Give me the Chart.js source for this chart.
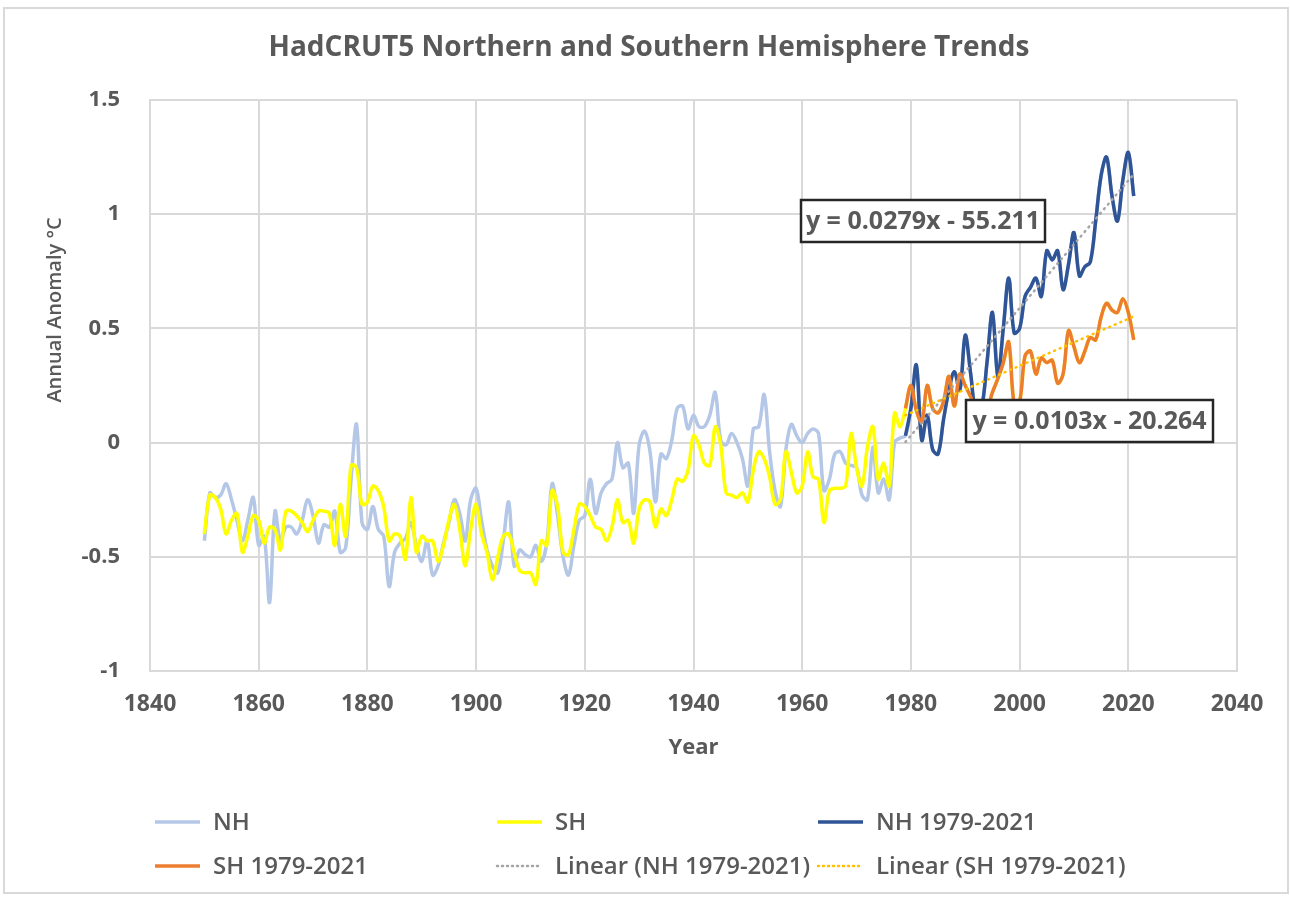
<!DOCTYPE html>
<html>
<head>
<meta charset="utf-8">
<script src="https://cdn.jsdelivr.net/npm/chart.js@4.4.1/dist/chart.umd.min.js"></script>
<style>
  html, body { margin: 0; padding: 0; background: #ffffff; }
  #wrap { position: relative; width: 1290px; height: 897px; }
  canvas { display: block; }
</style>
</head>
<body>
<div id="wrap"><canvas id="c" width="1290" height="897"></canvas></div>
<script>
// ---------- DATA ----------
const FIRST_YEAR = 1850;

// Northern Hemisphere annual anomaly, 1850-1978
const nhEarly = [
  -0.43, -0.22, -0.24, -0.23, -0.18, -0.25, -0.34, -0.43, -0.34, -0.24, // 1850-1859
  -0.45, -0.41, -0.70, -0.30, -0.43, -0.37, -0.37, -0.40, -0.34, -0.25, // 1860-1869
  -0.32, -0.44, -0.36, -0.37, -0.30, -0.48, -0.46, -0.16,  0.08, -0.35, // 1870-1879
  -0.38, -0.28, -0.38, -0.41, -0.63, -0.48, -0.44, -0.42, -0.35, -0.45, // 1880-1889
  -0.52, -0.43, -0.58, -0.54, -0.44, -0.35, -0.25, -0.31, -0.43, -0.25, // 1890-1899
  -0.20, -0.34, -0.47, -0.54, -0.57, -0.43, -0.26, -0.54, -0.47, -0.49, // 1900-1909
  -0.50, -0.45, -0.52, -0.44, -0.18, -0.32, -0.50, -0.58, -0.45, -0.34, // 1910-1919
  -0.32, -0.16, -0.31, -0.22, -0.18, -0.16,  0.00, -0.11, -0.09, -0.31, // 1920-1929
  -0.01,  0.05, -0.04, -0.26, -0.05, -0.07,  0.01,  0.15,  0.16,  0.06, // 1930-1939
   0.12,  0.07,  0.07,  0.12,  0.22,  0.01, -0.01,  0.04,  0.00, -0.07, // 1940-1949
  -0.19,  0.06,  0.07,  0.21, -0.04, -0.21, -0.28, -0.03,  0.08,  0.03, // 1950-1959
   0.00,  0.04,  0.06,  0.04, -0.21, -0.16, -0.05, -0.04, -0.09, -0.10, // 1960-1969
  -0.11, -0.23, -0.25, -0.02, -0.22, -0.16, -0.25,  0.00,  0.02         // 1970-1978
];

// Southern Hemisphere annual anomaly, 1850-1978
const shEarly = [
  -0.40, -0.23, -0.24, -0.29, -0.40, -0.34, -0.31, -0.48, -0.41, -0.32, // 1850-1859
  -0.34, -0.44, -0.37, -0.38, -0.47, -0.30, -0.30, -0.32, -0.35, -0.39, // 1860-1869
  -0.34, -0.30, -0.30, -0.31, -0.45, -0.27, -0.41, -0.10, -0.11, -0.27, // 1870-1879
  -0.26, -0.19, -0.21, -0.28, -0.43, -0.40, -0.41, -0.51, -0.24, -0.48, // 1880-1889
  -0.41, -0.43, -0.43, -0.52, -0.45, -0.34, -0.27, -0.38, -0.54, -0.38, // 1890-1899
  -0.27, -0.40, -0.48, -0.60, -0.50, -0.41, -0.40, -0.48, -0.56, -0.57, // 1900-1909
  -0.57, -0.62, -0.43, -0.45, -0.21, -0.28, -0.48, -0.49, -0.38, -0.27, // 1910-1919
  -0.28, -0.32, -0.37, -0.38, -0.43, -0.37, -0.25, -0.35, -0.34, -0.44, // 1920-1929
  -0.29, -0.25, -0.26, -0.37, -0.29, -0.32, -0.25, -0.16, -0.17, -0.12, // 1930-1939
   0.03, -0.01, -0.09, -0.10,  0.07, -0.01, -0.22, -0.23, -0.24, -0.22, // 1940-1949
  -0.26, -0.12, -0.04, -0.07, -0.15, -0.27, -0.25, -0.04, -0.13, -0.22, // 1950-1959
  -0.19, -0.04, -0.15, -0.16, -0.35, -0.21, -0.20, -0.20, -0.19,  0.04, // 1960-1969
  -0.11, -0.19, -0.02,  0.07, -0.16, -0.09, -0.19,  0.13,  0.07         // 1970-1978
];

const RECENT_START = 1979;
// NH 1979-2021
const nhRecent = [
   0.03,  0.15,  0.34,  0.01,  0.12, -0.03, -0.05,  0.10,  0.23,  0.31, // 1979-1988
   0.23,  0.47,  0.30,  0.12,  0.15,  0.35,  0.57,  0.29,  0.50,  0.72, // 1989-1998
   0.48,  0.50,  0.64,  0.68,  0.72,  0.64,  0.84,  0.80,  0.84,  0.67, // 1999-2008
   0.78,  0.92,  0.73,  0.77,  0.79,  0.97,  1.17,  1.25,  1.08,  0.97, // 2009-2018
   1.15,  1.27,  1.08                                                   // 2019-2021
];
// SH 1979-2021
const shRecent = [
   0.15,  0.25,  0.14,  0.09,  0.25,  0.15,  0.13,  0.18,  0.29,  0.16, // 1979-1988
   0.30,  0.25,  0.20,  0.14,  0.15,  0.15,  0.22,  0.28,  0.35,  0.44, // 1989-1998
   0.17,  0.18,  0.38,  0.40,  0.30,  0.37,  0.35,  0.36,  0.26,  0.30, // 1999-2008
   0.49,  0.42,  0.35,  0.40,  0.46,  0.45,  0.55,  0.61,  0.58,  0.57, // 2009-2018
   0.63,  0.57,  0.45                                                   // 2019-2021
];

// Linear trend lines as printed on the chart: [slope, intercept]
const nhTrend = [0.0279, -55.211];
const shTrend = [0.0103, -20.264];
const trendYears = [1979, 2021];

// Axis ticks
const xTickRange = [1840, 2040, 20];
const yTickRange = [-1, 1.5, 0.5];

const labels = {
  title: 'HadCRUT5 Northern and Southern Hemisphere Trends',
  xTitle: 'Year',
  yTitle: 'Annual Anomaly \u00B0C',
  nh: 'NH', sh: 'SH', nhR: 'NH 1979-2021', shR: 'SH 1979-2021',
  nhLin: 'Linear (NH 1979-2021)', shLin: 'Linear (SH 1979-2021)',
  nhEq: 'y = 0.0279x - 55.211', shEq: 'y = 0.0103x - 20.264'
};

// ---------- build points ----------
const nhAll = nhEarly.concat(nhRecent);
const shAll = shEarly.concat(shRecent);
const toPts = (arr, start) => arr.map((v, i) => ({ x: start + i, y: v }));
const trendPts = (t) => trendYears.map(yr => ({ x: yr, y: t[0] * yr + t[1] }));

const TXT = '#595959';
const FONT = "'Open Sans', 'DejaVu Sans', sans-serif";

const datasets = [
  { label: labels.nh, data: toPts(nhAll, FIRST_YEAR), borderColor: '#B4C7E7', borderWidth: 3.5, tension: 0.35, order: 6 },
  { label: labels.sh, data: toPts(shAll, FIRST_YEAR), borderColor: '#FFFF00', borderWidth: 3.5, tension: 0.35, order: 5 },
  { label: labels.nhR, data: toPts(nhRecent, RECENT_START), borderColor: '#2F5597', borderWidth: 3.5, tension: 0.35, order: 4 },
  { label: labels.shR, data: toPts(shRecent, RECENT_START), borderColor: '#ED7D31', borderWidth: 3.5, tension: 0.35, order: 3 },
  { label: labels.nhLin, data: trendPts(nhTrend), borderColor: '#A5A5A5', borderWidth: 2.5, borderDash: [1, 5], borderCapStyle: 'round', tension: 0, order: 2 },
  { label: labels.shLin, data: trendPts(shTrend), borderColor: '#FFC000', borderWidth: 2.5, borderDash: [1, 5], borderCapStyle: 'round', tension: 0, order: 1 }
];
datasets.forEach(d => { d.pointRadius = 0; d.fill = false; d.backgroundColor = d.borderColor; });

// ---------- custom drawing: title, axis titles, equation boxes, legend, frame ----------
const decorPlugin = {
  id: 'decor',
  afterDraw(chart) {
    const ctx = chart.ctx;
    const ca = chart.chartArea;
    ctx.save();
    // outer frame
    ctx.strokeStyle = '#D9D9D9';
    ctx.lineWidth = 2;
    ctx.strokeRect(4, 8, 1290 - 6, 897 - 12);

    // title
    ctx.fillStyle = TXT;
    ctx.textAlign = 'center';
    ctx.textBaseline = 'middle';
    ctx.font = "bold 28px " + FONT;
    ctx.fillText(labels.title, 649, 48);

    // x title
    ctx.font = "bold 22px " + FONT;
    ctx.fillText(labels.xTitle, (ca.left + ca.right) / 2, 748);

    // y title
    ctx.save();
    ctx.translate(55, 310);
    ctx.rotate(-Math.PI / 2);
    ctx.font = "600 20px " + FONT;
    ctx.fillText(labels.yTitle, 0, 0);
    ctx.restore();

    // equation boxes
    const boxes = [
      { text: labels.nhEq, x: 801, y: 200, w: 244, h: 42 },
      { text: labels.shEq, x: 966, y: 400, w: 247, h: 42 }
    ];
    boxes.forEach(b => {
      ctx.fillStyle = '#ffffff';
      ctx.fillRect(b.x, b.y, b.w, b.h);
      ctx.strokeStyle = '#262626';
      ctx.lineWidth = 2.5;
      ctx.strokeRect(b.x, b.y, b.w, b.h);
      ctx.fillStyle = TXT;
      ctx.font = "bold 25px " + FONT;
      ctx.textAlign = 'center';
      ctx.fillText(b.text, b.x + b.w / 2, b.y + b.h / 2 + 1);
    });

    // legend
    const cols = [155, 497, 818];
    const rows = [822, 866];
    ctx.font = "600 24px " + FONT;
    ctx.textAlign = 'left';
    chart.data.datasets.forEach((d, i) => {
      const cx = cols[i % 3], cy = rows[Math.floor(i / 3)];
      ctx.save();
      ctx.strokeStyle = d.borderColor;
      ctx.lineWidth = d.borderDash ? 2.5 : 3.5;
      if (d.borderDash) { ctx.setLineDash([1, 4]); ctx.lineCap = 'round'; }
      ctx.beginPath();
      ctx.moveTo(cx, cy);
      ctx.lineTo(cx + 45, cy);
      ctx.stroke();
      ctx.restore();
      ctx.fillStyle = TXT;
      ctx.fillText(d.label, cx + 58, cy + 1);
    });
    ctx.restore();
  }
};

function build() {
  new Chart(document.getElementById('c'), {
    type: 'line',
    data: { datasets },
    plugins: [decorPlugin],
    options: {
      responsive: false,
      animation: false,
      events: [],
      layout: { padding: { top: 100, right: 53, bottom: 166, left: 0 } },
      plugins: { legend: { display: false }, title: { display: false }, tooltip: { enabled: false } },
      scales: {
        x: {
          type: 'linear',
          min: xTickRange[0], max: xTickRange[1],
          ticks: { stepSize: xTickRange[2], padding: 20, color: TXT, font: { family: FONT, size: 23, weight: 'bold' }, callback: v => String(v), maxRotation: 0 },
          grid: { color: '#D9D9D9', lineWidth: 2, drawTicks: false },
          border: { color: '#D9D9D9', width: 2 },
          afterFit: s => { s.height = 60; }
        },
        y: {
          min: yTickRange[0], max: yTickRange[1],
          ticks: { stepSize: yTickRange[2], padding: 30, color: TXT, font: { family: FONT, size: 22, weight: 'bold' }, callback: v => String(Math.round(v * 10) / 10) },
          grid: { color: '#D9D9D9', lineWidth: 2, drawTicks: false },
          border: { color: '#D9D9D9', width: 2 },
          afterFit: s => { s.width = 150; }
        }
      }
    }
  });
}

if (document.fonts && document.fonts.load) {
  Promise.all([
    document.fonts.load("bold 22px 'Open Sans'"),
    document.fonts.load("600 21px 'Open Sans'")
  ]).then(build, build);
} else { build(); }
</script>
</body>
</html>
